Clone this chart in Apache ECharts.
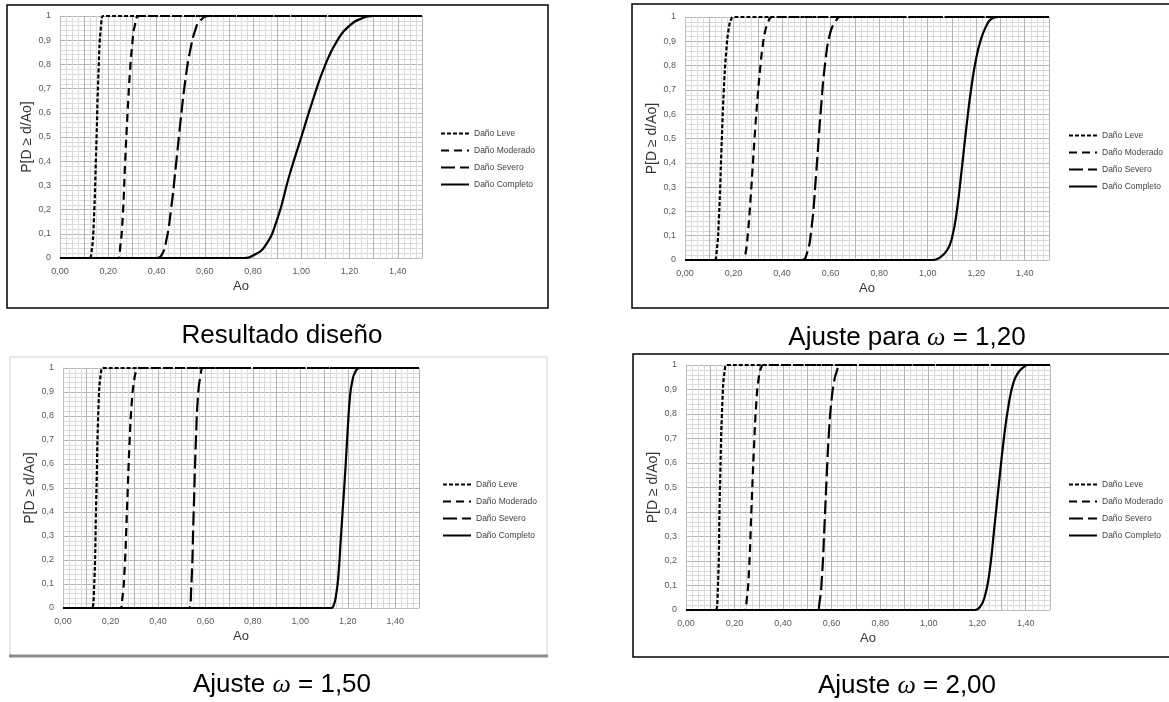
<!DOCTYPE html>
<html><head><meta charset="utf-8">
<script src="https://cdn.jsdelivr.net/npm/echarts@6/dist/echarts.min.js"></script>
<style>html,body{margin:0;padding:0;background:#fff}#c{width:1169px;height:702px}</style>
</head><body><div id="c"></div>
<script>
// ---------- text ----------
const seriesNames = ['Daño Leve', 'Daño Moderado', 'Daño Severo', 'Daño Completo'];
const panelTitlesPre = ['Resultado diseño', 'Ajuste para ', 'Ajuste ', 'Ajuste '];
const panelTitlesOmega = ['', 'ω', 'ω', 'ω'];
const panelTitlesPost = ['', ' = 1,20', ' = 1,50', ' = 2,00'];
const xTickLabels = ['0,00', '0,20', '0,40', '0,60', '0,80', '1,00', '1,20', '1,40'];
const yTickLabels = ['0', '0,1', '0,2', '0,3', '0,4', '0,5', '0,6', '0,7', '0,8', '0,9', '1'];
const xAxisTitle = 'Ao';
const yAxisTitle = 'P[D ≥ d/Ao]';

// ---------- data: [Ao, P] ----------
// Panel 1: Resultado diseño
const p1Leve = [[0,0],[0.12,0],[0.13,0.02],[0.14,0.15],[0.15,0.45],[0.16,0.78],[0.17,0.96],[0.18,1],[1.5,1]];
const p1Moderado = [[0,0],[0.24,0],[0.25,0.05],[0.26,0.17],[0.27,0.4],[0.28,0.6],[0.29,0.77],[0.30,0.89],[0.31,0.96],[0.33,1],[1.5,1]];
const p1Severo = [[0,0],[0.40,0],[0.42,0.01],[0.44,0.07],[0.46,0.2],[0.48,0.38],[0.50,0.57],[0.52,0.74],[0.54,0.86],[0.56,0.94],[0.58,0.98],[0.62,1],[1.5,1]];
const p1Completo = [[0,0],[0.76,0],[0.80,0.01],[0.85,0.05],[0.90,0.16],[0.95,0.34],[1.00,0.50],[1.05,0.66],[1.10,0.80],[1.15,0.90],[1.20,0.96],[1.25,0.99],[1.30,1],[1.5,1]];
// Panel 2: Ajuste para ω = 1,20
const p2Leve = [[0,0],[0.12,0],[0.13,0.03],[0.14,0.18],[0.15,0.45],[0.16,0.7],[0.17,0.86],[0.18,0.95],[0.19,0.99],[0.20,1],[1.5,1]];
const p2Moderado = [[0,0],[0.24,0],[0.25,0.03],[0.26,0.12],[0.27,0.25],[0.28,0.4],[0.29,0.55],[0.30,0.68],[0.31,0.79],[0.32,0.88],[0.33,0.94],[0.34,0.97],[0.36,1],[1.5,1]];
const p2Severo = [[0,0],[0.48,0],[0.50,0.02],[0.52,0.12],[0.54,0.35],[0.56,0.62],[0.58,0.83],[0.60,0.94],[0.62,0.98],[0.64,1],[1.5,1]];
const p2Completo = [[0,0],[1.02,0],[1.05,0.01],[1.08,0.04],[1.10,0.09],[1.12,0.2],[1.14,0.37],[1.16,0.55],[1.18,0.71],[1.20,0.83],[1.22,0.91],[1.24,0.96],[1.26,0.99],[1.29,1],[1.5,1]];
// Panel 3: Ajuste ω = 1,50
const p3Leve = [[0,0],[0.12,0],[0.13,0.06],[0.14,0.45],[0.15,0.85],[0.16,0.98],[0.17,1],[1.5,1]];
const p3Moderado = [[0,0],[0.24,0],[0.25,0.04],[0.26,0.17],[0.27,0.42],[0.28,0.68],[0.29,0.86],[0.30,0.95],[0.31,0.99],[0.32,1],[1.5,1]];
const p3Severo = [[0,0],[0.53,0],[0.54,0.08],[0.55,0.38],[0.56,0.7],[0.57,0.9],[0.58,0.97],[0.59,1],[1.5,1]];
const p3Completo = [[0,0],[1.13,0],[1.14,0.01],[1.15,0.05],[1.16,0.13],[1.17,0.28],[1.18,0.43],[1.19,0.58],[1.20,0.75],[1.21,0.89],[1.22,0.95],[1.23,0.98],[1.25,1],[1.5,1]];
// Panel 4: Ajuste ω = 2,00
const p4Leve = [[0,0],[0.12,0],[0.13,0.05],[0.14,0.5],[0.15,0.85],[0.16,0.98],[0.17,1],[1.5,1]];
const p4Moderado = [[0,0],[0.24,0],[0.25,0.04],[0.26,0.17],[0.27,0.42],[0.28,0.66],[0.29,0.85],[0.30,0.95],[0.31,0.99],[0.32,1],[1.5,1]];
const p4Severo = [[0,0],[0.54,0],[0.55,0.03],[0.56,0.13],[0.57,0.33],[0.58,0.55],[0.59,0.74],[0.60,0.86],[0.61,0.93],[0.62,0.97],[0.64,1],[1.5,1]];
const p4Completo = [[0,0],[1.19,0],[1.21,0.01],[1.23,0.05],[1.25,0.15],[1.27,0.33],[1.29,0.52],[1.31,0.7],[1.33,0.84],[1.35,0.93],[1.37,0.97],[1.39,0.99],[1.41,1],[1.5,1]];

const panelData = [
  [p1Leve, p1Moderado, p1Severo, p1Completo],
  [p2Leve, p2Moderado, p2Severo, p2Completo],
  [p3Leve, p3Moderado, p3Severo, p3Completo],
  [p4Leve, p4Moderado, p4Severo, p4Completo]
];

// ---------- layout / style ----------
const grids = [
  {left: 60, top: 16, width: 362, height: 242},
  {left: 685, top: 17, width: 364, height: 243},
  {left: 63, top: 368, width: 356, height: 240},
  {left: 686, top: 365, width: 364, height: 245}
];
const legendPos = [
  {left: 435, top: 124},
  {left: 1063, top: 126},
  {left: 437, top: 475},
  {left: 1063, top: 475}
];
const titlePos = [
  {x: 277, y: 331},
  {x: 902, y: 333},
  {x: 277, y: 680},
  {x: 902, y: 681}
];
const dashes = [[4, 2], [8, 5], [14, 5], 'solid'];
const widths = [2.2, 2.2, 2.2, 2.2];

const FONT = 'Liberation Sans, Arial, sans-serif';
const option = {
  animation: false,
  backgroundColor: '#fff',
  grid: grids.map(g => Object.assign({containLabel: false}, g)),
  xAxis: grids.map((g, i) => ({
    type: 'value', gridIndex: i, min: 0, max: 1.5, interval: 0.1,
    name: xAxisTitle, nameLocation: 'middle', nameGap: 22,
    nameTextStyle: {fontFamily: FONT, fontSize: 13, color: '#333'},
    axisLine: {show: true, lineStyle: {color: '#bfbfbf', width: 1}},
    axisTick: {show: false},
    axisLabel: {
      fontFamily: FONT, fontSize: 9, color: '#595959', margin: 9,
      showMaxLabel: false,
      formatter: v => { const k = Math.round(v * 10); return k % 2 === 0 && xTickLabels[k / 2] ? xTickLabels[k / 2] : ''; }
    },
    splitLine: {show: true, lineStyle: {color: '#b5b5b5', width: 1}},
    minorTick: {show: false, splitNumber: 4},
    minorSplitLine: {show: true, lineStyle: {color: '#dcdcdc', width: 1}}
  })),
  yAxis: grids.map((g, i) => ({
    type: 'value', gridIndex: i, min: 0, max: 1, interval: 0.1,
    name: yAxisTitle, nameLocation: 'middle', nameGap: 26, nameRotate: 90,
    nameTextStyle: {fontFamily: FONT, fontSize: 14, color: '#333'},
    axisLine: {show: true, lineStyle: {color: '#bfbfbf', width: 1}},
    axisTick: {show: false},
    axisLabel: {
      fontFamily: FONT, fontSize: 9, color: '#595959', margin: 9,
      formatter: v => yTickLabels[Math.round(v * 10)] || ''
    },
    splitLine: {show: true, lineStyle: {color: '#b5b5b5', width: 1}},
    minorTick: {show: false, splitNumber: 5},
    minorSplitLine: {show: true, lineStyle: {color: '#dcdcdc', width: 1}}
  })),
  legend: legendPos.map((p, i) => ({
    orient: 'vertical', left: p.left, top: p.top,
    itemWidth: 28, itemHeight: 10, itemGap: 8,
    data: seriesNames,
    selectedMode: false,
    itemStyle: {opacity: 0, borderWidth: 0},
    textStyle: {fontFamily: FONT, fontSize: 8.5, color: '#404040'}
  })),
  title: titlePos.map((p, i) => ({
    text: '{a|' + panelTitlesPre[i] + '}' + (panelTitlesOmega[i] ? '{w|' + panelTitlesOmega[i] + '}' : '') + '{a|' + panelTitlesPost[i] + '}',
    left: p.x, top: p.y, textAlign: 'center', textVerticalAlign: 'middle',
    textStyle: {
      fontWeight: 'normal',
      rich: {
        a: {fontFamily: FONT, fontSize: 26, fontWeight: 'normal', color: '#000'},
        w: {fontFamily: 'Liberation Serif, Times New Roman, serif', fontStyle: 'italic', fontWeight: 'normal', fontSize: 26, color: '#000'}
      }
    }
  })),
  series: [],
  graphic: [
    {type: 'rect', shape: {x: 7, y: 5, width: 541, height: 303}, style: {fill: 'none', stroke: '#000', lineWidth: 1.5}, silent: true},
    {type: 'polyline', shape: {points: [[1169, 4], [632, 4], [632, 308], [1169, 308]]}, style: {fill: 'none', stroke: '#000', lineWidth: 1.5}, silent: true},
    {type: 'polyline', shape: {points: [[10, 655], [10, 357], [547, 357], [547, 655]]}, style: {fill: 'none', stroke: '#d0d0d0', lineWidth: 1}, silent: true},
    {type: 'line', shape: {x1: 9, y1: 656, x2: 548, y2: 656}, style: {stroke: '#8c8c8c', lineWidth: 3}, silent: true},
    {type: 'polyline', shape: {points: [[1169, 354], [633, 354], [633, 657], [1169, 657]]}, style: {fill: 'none', stroke: '#000', lineWidth: 1.5}, silent: true}
  ]
};

panelData.forEach((curves, gi) => {
  curves.forEach((data, si) => {
    option.series.push({
      type: 'line', name: seriesNames[si], xAxisIndex: gi, yAxisIndex: gi,
      data: data, symbol: 'none', showSymbol: false,
      smooth: 0.5,
      lineStyle: {color: '#000', width: widths[si], type: dashes[si], cap: 'butt'},
      itemStyle: {color: '#000'},
      z: 3 + si
    });
  });
});

const chart = echarts.init(document.getElementById('c'), null, {renderer: 'canvas'});
chart.setOption(option);
</script>
</body></html>
